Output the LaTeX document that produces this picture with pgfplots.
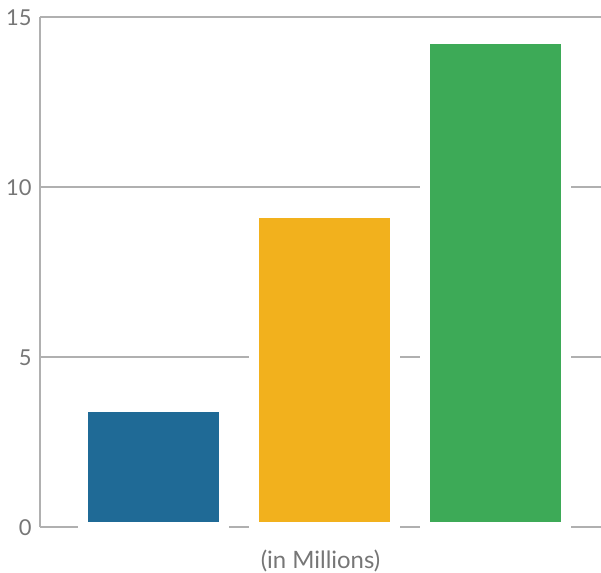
\documentclass[border=0pt]{standalone}
\usepackage{pgfplots}
\pgfplotsset{compat=1.18}
\usepackage{fontspec}
\setmainfont{Lato}
\definecolor{cblue}{HTML}{1F6A96}
\definecolor{cyellow}{HTML}{F2B11D}
\definecolor{cgreen}{HTML}{3DAA57}
\definecolor{cgrid}{HTML}{B0B0B0}
\definecolor{ctext}{HTML}{767676}
\begin{document}
\begin{tikzpicture}
\begin{axis}[
  name=ax,
  scale only axis,
  width=561bp, height=510bp,
  xmin=-0.664, xmax=2.617,
  ymin=0, ymax=15,
  ytick={0,5,10,15},
  xtick=\empty,
  ymajorgrids,
  grid style={cgrid, line width=1.6bp},
  axis lines*=left,
  x axis line style={draw=none},
  y axis line style={cgrid, line width=1.6bp},
  major tick length=0pt,
  /pgf/number format/assume math mode=true,
  yticklabel style={font=\fontsize{22}{26}\selectfont, text=ctext, xshift=-5bp, yshift=-1bp},
  xlabel={(in Millions)},
  xlabel style={font=\fontsize{24}{28}\selectfont, text=ctext, at={(axis description cs:0.5,0)}, anchor=center, inner sep=0pt, yshift=-34bp},
  clip=false,
  ybar, bar width=141bp, bar shift=0pt,
  every axis plot/.append style={draw=white, line width=10bp},
]
\addplot[fill=cblue] coordinates {(0,3.53)};
\addplot[fill=cyellow] coordinates {(1,9.24)};
\addplot[fill=cgreen] coordinates {(2,14.35)};
\end{axis}
\pgfresetboundingbox
\useasboundingbox ([xshift=-40bp,yshift=-46bp]ax.south west) rectangle ([yshift=17bp]ax.north east);
\end{tikzpicture}
\end{document}
